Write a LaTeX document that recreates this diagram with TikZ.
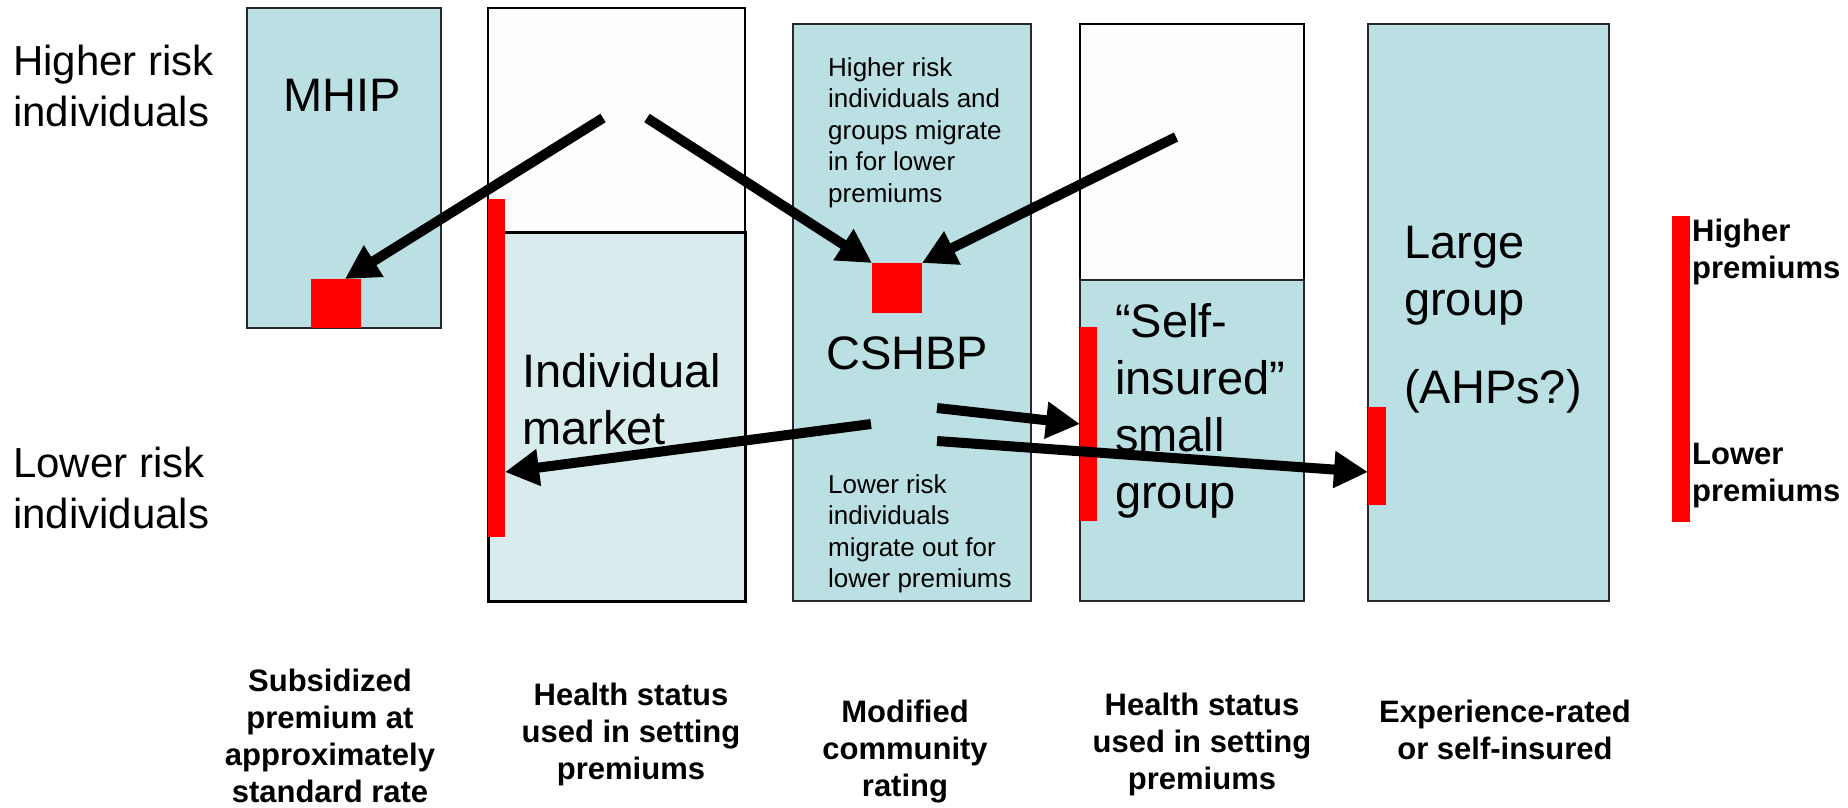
\documentclass[tikz,border=0pt]{standalone}
\usepackage{fontspec}
\setmainfont{Liberation Sans}
\usetikzlibrary{arrows.meta}
\definecolor{paleblue}{RGB}{186,224,227}
\definecolor{palerblue}{RGB}{216,236,238}
\definecolor{boxwhite}{RGB}{253,253,253}
\definecolor{edge}{RGB}{40,40,40}
\begin{document}
\begin{tikzpicture}[x=1pt,y=-1pt,
  col/.style={draw=edge, line width=2pt, anchor=north west, inner sep=0pt, outer sep=0pt},
  redmark/.style={fill=red, draw=none, anchor=north west, inner sep=0pt, outer sep=0pt},
  mig/.style={line width=10pt, -{Triangle[length=34pt,width=35pt]}},
  lbl/.style={anchor=north west, inner sep=0pt, align=left},
  side/.style={font=\fontsize{42}{51}\selectfont},
  big/.style={font=\fontsize{47}{57}\selectfont},
  small/.style={font=\fontsize{26}{31.6}\selectfont},
  legend/.style={font=\bfseries\fontsize{31}{37}\selectfont},
  foot/.style={anchor=north, inner sep=0pt, align=center, font=\bfseries\fontsize{31}{37}\selectfont}]
\useasboundingbox (0,0) rectangle (1848,807);

% market columns
\node[col, fill=paleblue, minimum width=194pt, minimum height=320pt] (mhip) at (247,8) {};
\node[col, draw=black, fill=boxwhite, minimum width=257pt, minimum height=224pt] (indtop) at (488,8) {};
\node[col, draw=black, line width=3pt, fill=palerblue, minimum width=257pt, minimum height=369pt] (indlow) at (488,232) {};
\node[col, fill=paleblue, minimum width=238pt, minimum height=577pt] (cshbp) at (793,24) {};
\node[col, draw=black, fill=boxwhite, minimum width=224pt, minimum height=256pt] (selftop) at (1080,24) {};
\node[col, fill=paleblue, minimum width=224pt, minimum height=321pt] (selflow) at (1080,280) {};
\node[col, fill=paleblue, minimum width=241pt, minimum height=577pt] (large) at (1368,24) {};

% premium ranges
\node[redmark, minimum width=50pt, minimum height=49pt] (mhipsq) at (311,279) {};
\node[redmark, minimum width=17pt, minimum height=338pt] (indbar) at (488,199) {};
\node[redmark, minimum width=50pt, minimum height=50pt] (cshsq) at (872,263) {};
\node[redmark, minimum width=17pt, minimum height=194pt] (selfbar) at (1080,327) {};
\node[redmark, minimum width=18pt, minimum height=98pt] (largebar) at (1368,407) {};
\node[redmark, minimum width=18pt, minimum height=306pt] (legbar) at (1672,216) {};

% labels
\node[lbl, side] (hirisk) at (13,45) {Higher risk\\individuals};
\node[lbl, side] (lorisk) at (13,447) {Lower risk\\individuals};
\node[lbl, big] (mhiptxt) at (283,79) {MHIP};
\node[lbl, big] (indtxt) at (522,353) {Individual\\market};
\node[lbl, small] (intxt) at (828,57) {Higher risk\\individuals and\\groups migrate\\in for lower\\premiums};
\node[lbl, big] (cshtxt) at (826,336) {CSHBP};
\node[lbl, small] (outtxt) at (828,474) {Lower risk\\individuals\\migrate out for\\lower premiums};
\node[lbl, big] (selftxt) at (1115,303) {“Self-\\insured”\\small\\group};
\node[lbl, big] (largetxt) at (1404,226) {Large\\group\\[31pt](AHPs?)};
\node[lbl, legend] (hiprem) at (1692,219) {Higher\\premiums};
\node[lbl, legend] (loprem) at (1692,443) {Lower\\premiums};

\node[foot] (f1) at (330,669) {Subsidized\\premium at\\approximately\\standard rate};
\node[foot] (f2) at (631,683) {Health status\\used in setting\\premiums};
\node[foot] (f3) at (905,700) {Modified\\community\\rating};
\node[foot] (f4) at (1202,693) {Health status\\used in setting\\premiums};
\node[foot] (f5) at (1505,700) {Experience-rated\\or self-insured};

% migration arrows
\coordinate (a1) at (603,118);
\coordinate (a2) at (647,118);
\coordinate (a3) at (1176,137);
\coordinate (a4) at (871,424);
\coordinate (a5) at (937,408);
\coordinate (a6) at (937,441);
\draw[mig] (a1) -- (mhipsq.70);
\draw[mig] (a2) -- (cshsq.north west);
\draw[mig] (a3) -- (cshsq.north east);
\draw[mig] (a4) -- ([yshift=-104pt]indbar.east);
\draw[mig] (a5) -- (selfbar.west);
\draw[mig] (a6) -- ([yshift=-16pt]largebar.west);
\end{tikzpicture}
\end{document}
